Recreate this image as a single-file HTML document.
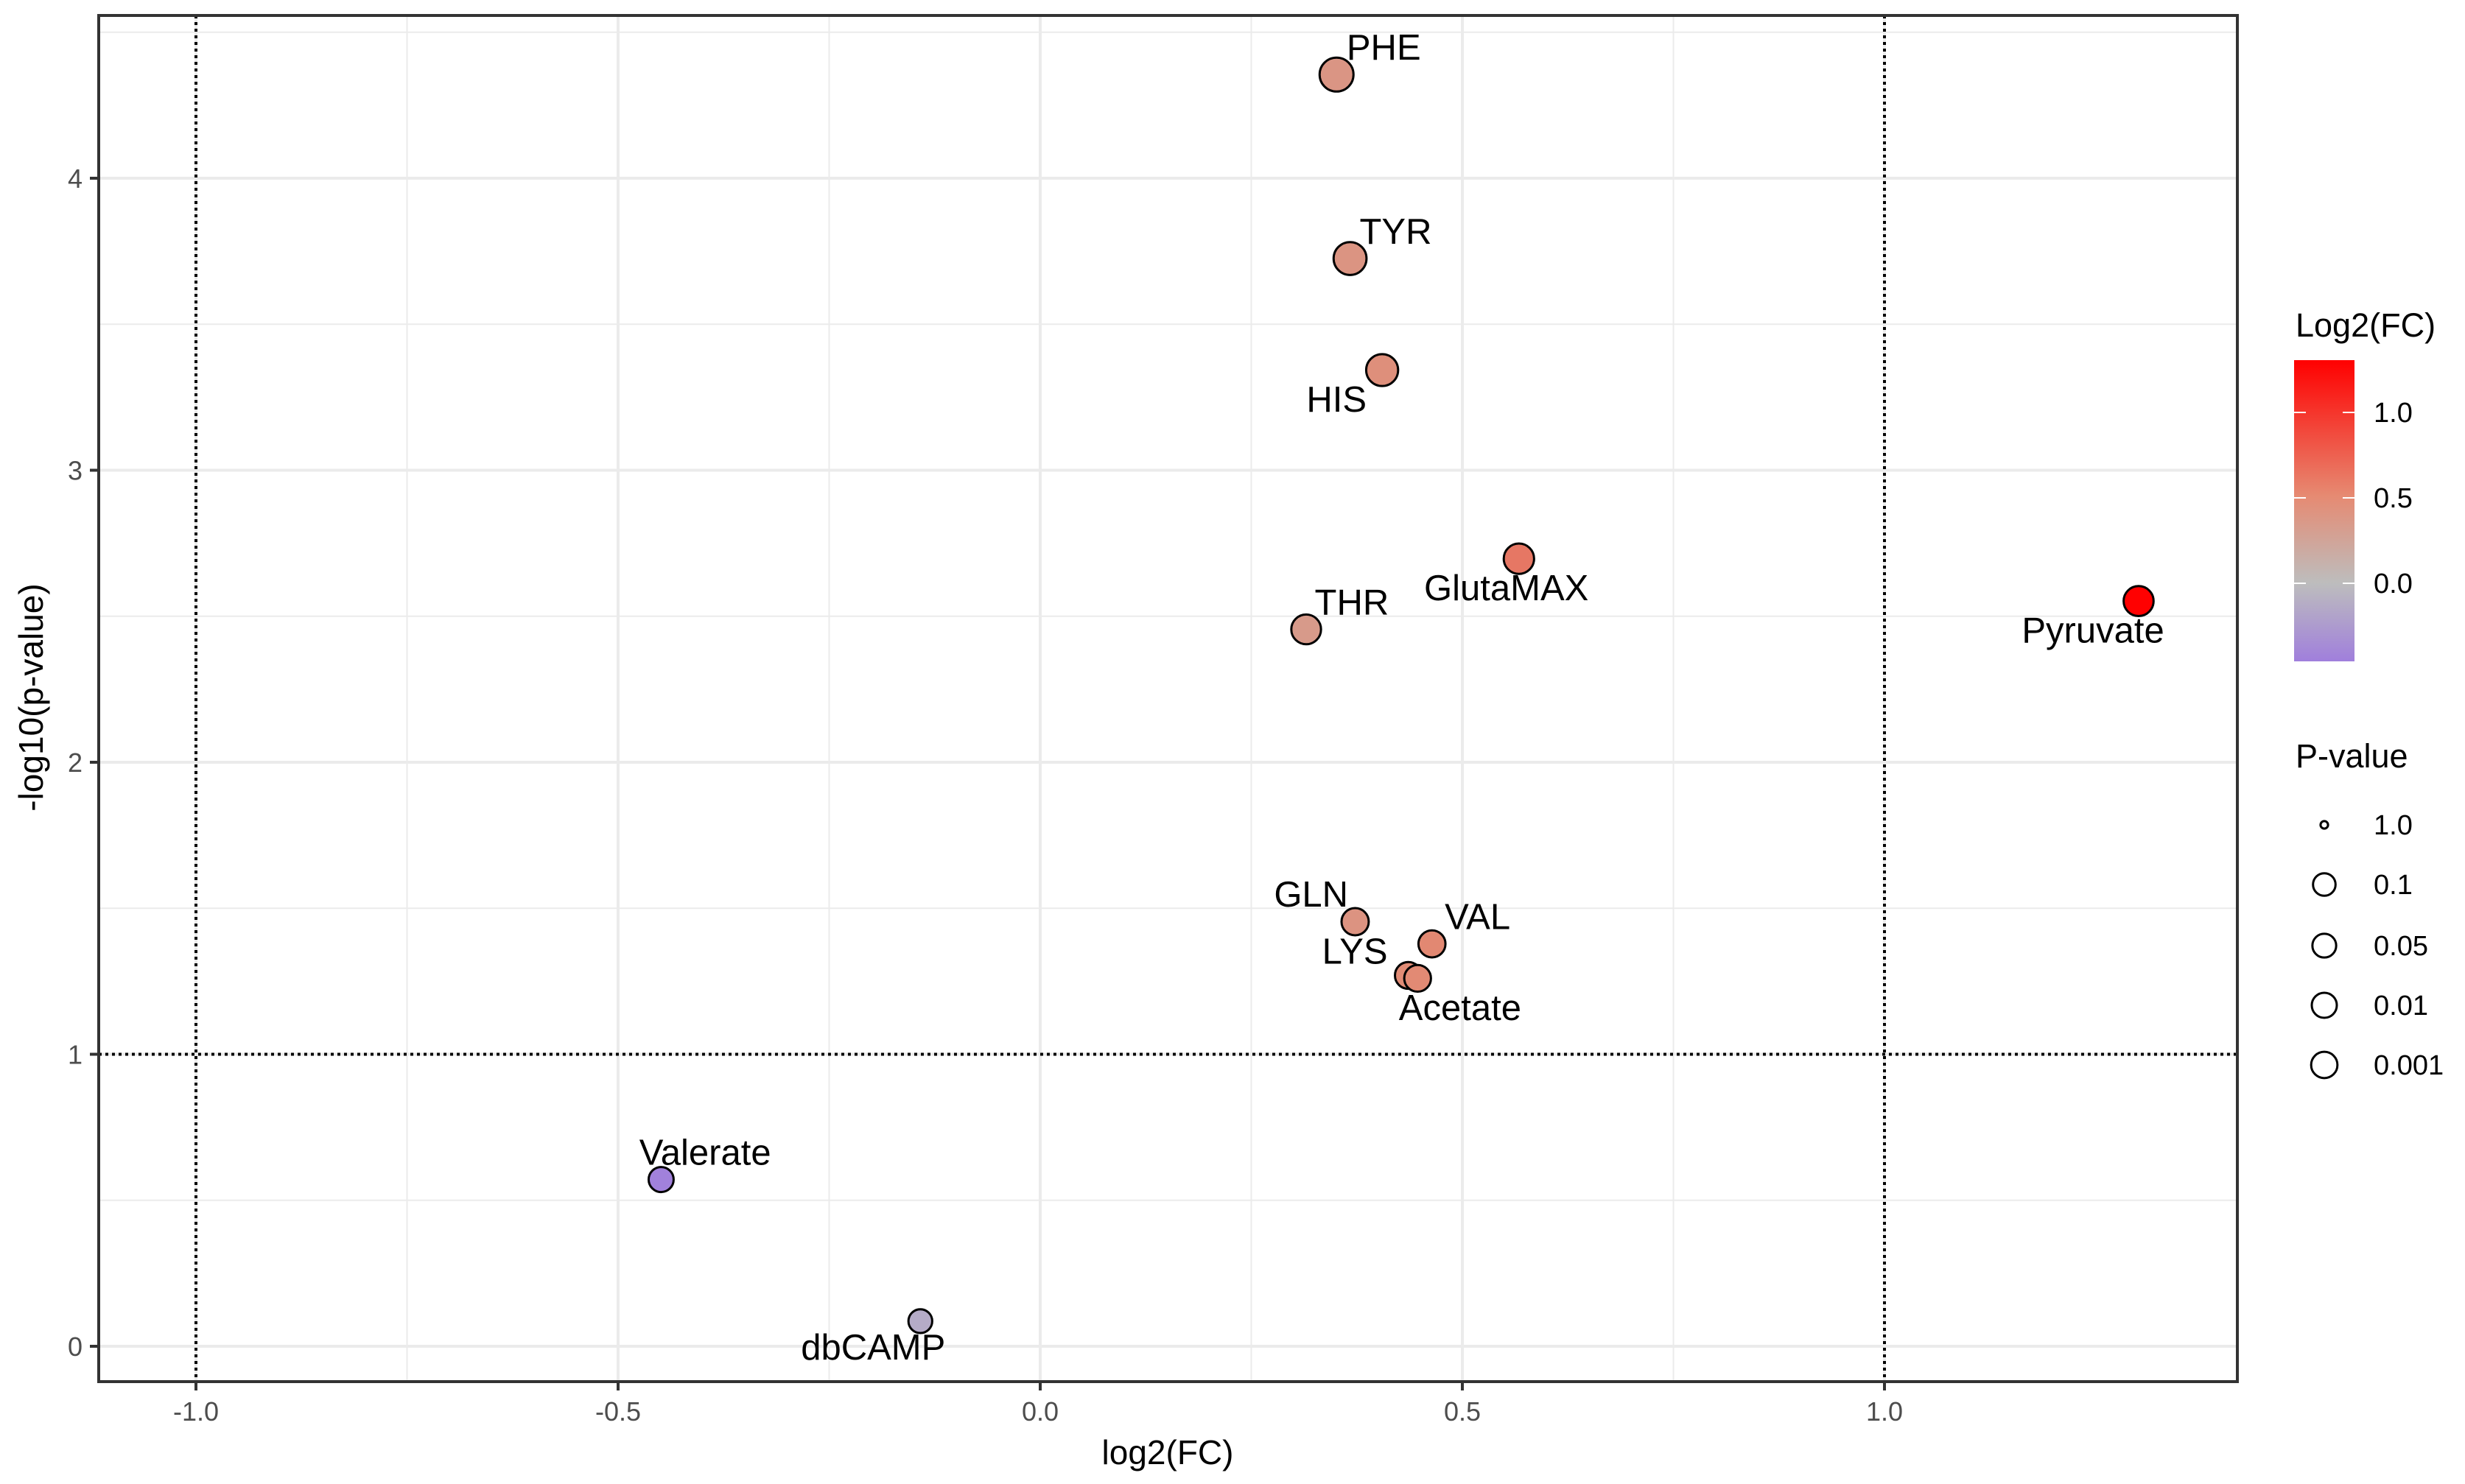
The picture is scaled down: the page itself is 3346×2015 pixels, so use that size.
<!DOCTYPE html>
<html><head><meta charset="utf-8"><style>
html,body{margin:0;padding:0;background:#fff;}
svg{display:block;font-family:"Liberation Sans",sans-serif;}
</style></head><body>
<svg id="chart" width="3346" height="2015" viewBox="0 0 3346 2015" xmlns="http://www.w3.org/2000/svg">
<defs>
<linearGradient id="cbar" x1="0" y1="1" x2="0" y2="0">
<stop offset="0" stop-color="#a07fdc"/>
<stop offset="0.26" stop-color="#bdbdbd"/>
<stop offset="0.55" stop-color="#e68a72"/>
<stop offset="1" stop-color="#ff0000"/>
</linearGradient>
</defs>
<g id="grid"></g>
<g id="refs"></g>
<g id="points"></g>
<g id="labels"></g>
<rect x="134" y="21" width="2903" height="1855" fill="none" stroke="#333" stroke-width="4"/>
<g id="axes"></g>
<text x="1585" y="1988" font-size="46" text-anchor="middle" fill="#000">log2(FC)</text>
<text x="0" y="0" font-size="46" text-anchor="middle" fill="#000" transform="translate(58,947) rotate(-90)">-log10(p-value)</text>
<g>
<text x="3116" y="457" font-size="45" fill="#000">Log2(FC)</text>
<rect x="3114" y="489" width="82" height="409" fill="url(#cbar)"/>
<g id="cticks"></g>
</g>
<g>
<text x="3116" y="1042" font-size="45" fill="#000">P-value</text>
<g id="sizeleg"></g>
</g>
</svg>
<script>
const names=["PHE","TYR","HIS","GlutaMAX","Pyruvate","THR","GLN","VAL","LYS","Acetate","Valerate","dbCAMP"];
const log2fc=[0.351,0.367,0.405,0.567,1.301,0.315,0.373,0.464,0.436,0.447,-0.449,-0.142];
const neglogp=[4.355,3.725,3.343,2.697,2.552,2.455,1.454,1.378,1.27,1.26,0.571,0.086];
const labelDx=[30,29,-29,-8,-29,29,-28,29,-34,27,28,-30];
const labelDy=[-17,-17,19,19,19,-17,-17,-17,-15,19,-17,17];
const xTicks=[-1.0,-0.5,0.0,0.5,1.0];
const xTickLabels=["-1.0","-0.5","0.0","0.5","1.0"];
const xMinor=[-0.75,-0.25,0.25,0.75];
const yTicks=[0,1,2,3,4];
const yTickLabels=["0","1","2","3","4"];
const yMinor=[0.5,1.5,2.5,3.5,4.5];
const cTicks=[0,0.5,1.0];
const cTickLabels=["0.0","0.5","1.0"];
const sizeLabels=["1.0","0.1","0.05","0.01","0.001"];
const sizeRadii=[6,18,19,20,21];

const NS="http://www.w3.org/2000/svg";
const L=134,R=3037,T=21,B=1876;
const xPx=v=>1412+v*1146;
const yPx=v=>1828-v*396.5;
const cPx=v=>792-v*232;
function mk(tag,attrs,parent){const e=document.createElementNS(NS,tag);for(const k in attrs)e.setAttribute(k,attrs[k]);parent.appendChild(e);return e;}
const grid=document.getElementById('grid');
xMinor.forEach(v=>{const e=mk('line',{x1:xPx(v),x2:xPx(v),y1:T,y2:B,stroke:'#ebebeb','stroke-width':2},grid);

});
yMinor.forEach(v=>{const e=mk('line',{x1:L,x2:R,y1:yPx(v),y2:yPx(v),stroke:'#ebebeb','stroke-width':2},grid);

});
xTicks.forEach(v=>{const e=mk('line',{x1:xPx(v),x2:xPx(v),y1:T,y2:B,stroke:'#ebebeb','stroke-width':4},grid);

});
yTicks.forEach(v=>{const e=mk('line',{x1:L,x2:R,y1:yPx(v),y2:yPx(v),stroke:'#ebebeb','stroke-width':4},grid);

});
const refs=document.getElementById('refs');
[-1,1].forEach(v=>{const e=mk('line',{x1:xPx(v),x2:xPx(v),y1:T,y2:B,stroke:'#000','stroke-width':4,'stroke-dasharray':'4 5'},refs);

});
{const e=mk('line',{x1:L,x2:R,y1:yPx(1),y2:yPx(1),stroke:'#000','stroke-width':4,'stroke-dasharray':'4 5'},refs);

}
function lerp(a,b,t){return a.map((x,i)=>Math.round(x+(b[i]-x)*t));}
function color(v){const lo=[160,127,220],mid=[190,190,190],m2=[226,138,116],hi=[255,0,0];
let c;if(v<0)c=lerp(mid,lo,Math.min(1,-v/0.46));else if(v<0.45)c=lerp(mid,m2,v/0.45);else c=lerp(m2,hi,Math.min(1,(v-0.45)/0.86));
return 'rgb('+c.join(',')+')';}
function radius(y){return Math.min(23,16+1.7*y);}
const pts=document.getElementById('points'),lbs=document.getElementById('labels');
names.forEach((n,i)=>{const cx=xPx(log2fc[i]),cy=yPx(neglogp[i]);
const c=mk('circle',{cx:cx,cy:cy,r:radius(neglogp[i]),fill:color(log2fc[i]),stroke:'#000','stroke-width':3},pts);


const t=mk('text',{x:cx+labelDx[i]*2.134,y:cy+labelDy[i]*2.134,'font-size':49,'text-anchor':'middle','dominant-baseline':'central',fill:'#000'},lbs);
t.textContent=n;

});
const axes=document.getElementById('axes');
xTicks.forEach((v,i)=>{const e=mk('line',{x1:xPx(v),x2:xPx(v),y1:B,y2:B+12,stroke:'#333','stroke-width':4},axes);


const t=mk('text',{x:xPx(v),y:1929,'font-size':36,'text-anchor':'middle',fill:'#4d4d4d'},axes);t.textContent=xTickLabels[i];

});
yTicks.forEach((v,i)=>{const e=mk('line',{x1:L-12,x2:L,y1:yPx(v),y2:yPx(v),stroke:'#333','stroke-width':4},axes);


const t=mk('text',{x:112,y:yPx(v)+13,'font-size':36,'text-anchor':'end',fill:'#4d4d4d'},axes);t.textContent=yTickLabels[i];

});
const ct=document.getElementById('cticks');
cTicks.forEach((v,i)=>{const y=cPx(v);
mk('line',{x1:3114,x2:3130,y1:y,y2:y,stroke:'#fff','stroke-width':2},ct);
mk('line',{x1:3180,x2:3196,y1:y,y2:y,stroke:'#fff','stroke-width':2},ct);
const t=mk('text',{x:3222,y:y+13,'font-size':38,fill:'#000'},ct);t.textContent=cTickLabels[i];

});
const sl=document.getElementById('sizeleg');
const sy=[1120,1201,1284,1365,1446];
sizeLabels.forEach((s,i)=>{const c=mk('circle',{cx:3155,cy:sy[i],r:sizeRadii[i]*0.85,fill:'none',stroke:'#000','stroke-width':3},sl);


const t=mk('text',{x:3222,y:sy[i]+13,'font-size':38,fill:'#000'},sl);t.textContent=s;

});
</script>
</body></html>
